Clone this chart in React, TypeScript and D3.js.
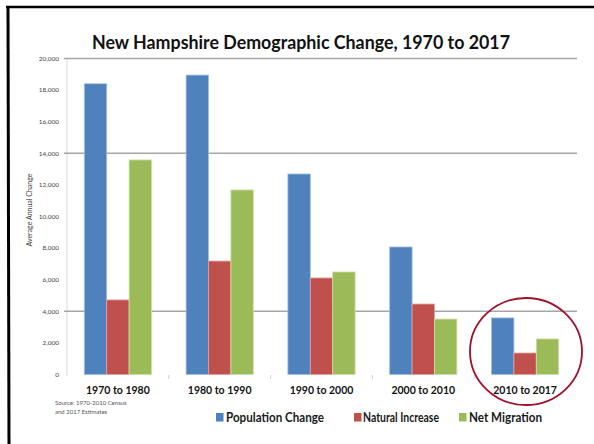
import React from "react";
import * as d3 from "d3";

const categories = ["1970 to 1980", "1980 to 1990", "1990 to 2000", "2000 to 2010", "2010 to 2017"];
const seriesNames = ["Population Change", "Natural Increase", "Net Migration"];
const populationChange = [18400, 18950, 12690, 8070, 3580];
const naturalIncrease = [4720, 7180, 6110, 4460, 1360];
const netMigration = [13580, 11680, 6490, 3510, 2250];
const yTicks = [0, 2000, 4000, 6000, 8000, 10000, 12000, 14000, 16000, 18000, 20000];
const gridValues = [20000, 14000, 4000];
const colors = ["#4F81BD", "#C0504D", "#9BBB59"];
const edgeColors = ["#9fbde0", "#e0a09e", "#cde0a8"];

const W = 594;
const H = 444;

export default function App() {
  const series = [populationChange, naturalIncrease, netMigration];
  const x0 = d3.scaleBand<string>().domain(categories).range([67, 576]).paddingInner(0.34).paddingOuter(0.17);
  const x1 = d3.scaleBand<string>().domain(seriesNames).range([0, x0.bandwidth()]);
  const y = d3.scaleLinear().domain([0, 20000]).range([374.5, 58.5]);
  const fmt = d3.format(",");
  const font = "Lato, 'Open Sans', sans-serif";

  return (
    <svg
      width={W}
      height={H}
      style={{ position: "absolute", left: 0, top: 0, background: "#fff" }}
      fontFamily={font}
    >
      <rect x={0} y={0} width={W} height={H} fill="#fff" />
      {/* frame */}
      <line x1={6} y1={7} x2={W} y2={7} stroke="#000" strokeWidth={2.5} />
      <line x1={8} y1={6} x2={9} y2={H} stroke="#000" strokeWidth={3} />

      {/* title */}
      <text
        x={301}
        y={49}
        textAnchor="middle"
        fontSize={19}
        fontWeight={700}
        fill="#111"
        textLength={418}
        lengthAdjust="spacingAndGlyphs"
      >
        New Hampshire Demographic Change, 1970 to 2017
      </text>

      {/* value axis line */}
      <line x1={67} y1={58} x2={67} y2={376} stroke="#d9d9d9" strokeWidth={1} />

      {/* gridlines */}
      {gridValues.map((v) => (
        <line key={v} x1={64} x2={577} y1={y(v)} y2={y(v)} stroke="#a6a6a6" strokeWidth={1.5} />
      ))}

      {/* y tick labels */}
      {yTicks.map((v) => (
        <text key={v} x={59} y={y(v)} dy="0.35em" textAnchor="end" fontSize={6.5} fill="#444">
          {fmt(v)}
        </text>
      ))}

      {/* y axis title */}
      <text
        transform={`translate(32,${210}) rotate(-90)`}
        textAnchor="middle"
        fontSize={7}
        fill="#444"
      >
        Average Annual Change
      </text>

      {/* category tick marks */}
      {categories.slice(1).map((c) => {
        const xx = (x0(c) as number) - (x0.step() - x0.bandwidth()) / 2;
        return <line key={c} x1={xx} x2={xx} y1={375} y2={379} stroke="#d0d0d0" strokeWidth={1} />;
      })}

      {/* bars */}
      {categories.map((c, i) => (
        <g key={c} transform={`translate(${x0(c)},0)`}>
          {seriesNames.map((s, j) => (
            <rect
              key={s}
              x={x1(s)}
              y={y(series[j][i])}
              width={x1.bandwidth()}
              height={y(0) - y(series[j][i])}
              fill={colors[j]}
              stroke={edgeColors[j]}
              strokeWidth={0.8}
            />
          ))}
        </g>
      ))}

      {/* category labels */}
      {categories.map((c) => (
        <text
          key={c}
          x={(x0(c) as number) + x0.bandwidth() / 2}
          y={393.5}
          textAnchor="middle"
          fontSize={10.5}
          fontWeight={700}
          fill="#111"
        >
          {c}
        </text>
      ))}

      {/* source note */}
      <text x={55} y={405} fontSize={6} fill="#555">
        Source: 1970-2010 Census
      </text>
      <text x={55} y={414} fontSize={6} fill="#555">
        and 2017 Estimates
      </text>

      {/* legend */}
      {[
        { sx: 216, tx: 226, tw: 98 },
        { sx: 354, tx: 363, tw: 76 },
        { sx: 459, tx: 469, tw: 73 },
      ].map((p, j) => (
        <g key={seriesNames[j]}>
          <rect x={p.sx} y={413} width={7.5} height={8.5} fill={colors[j]} />
          <text
            x={p.tx}
            y={421.5}
            fontSize={13}
            fontWeight={700}
            fill="#1a1a1a"
            textLength={p.tw}
            lengthAdjust="spacingAndGlyphs"
          >
            {seriesNames[j]}
          </text>
        </g>
      ))}

      {/* highlight ellipse */}
      <ellipse cx={526} cy={351.5} rx={56} ry={53.5} fill="none" stroke="#a0102a" strokeWidth={1.8} />
    </svg>
  );
}
